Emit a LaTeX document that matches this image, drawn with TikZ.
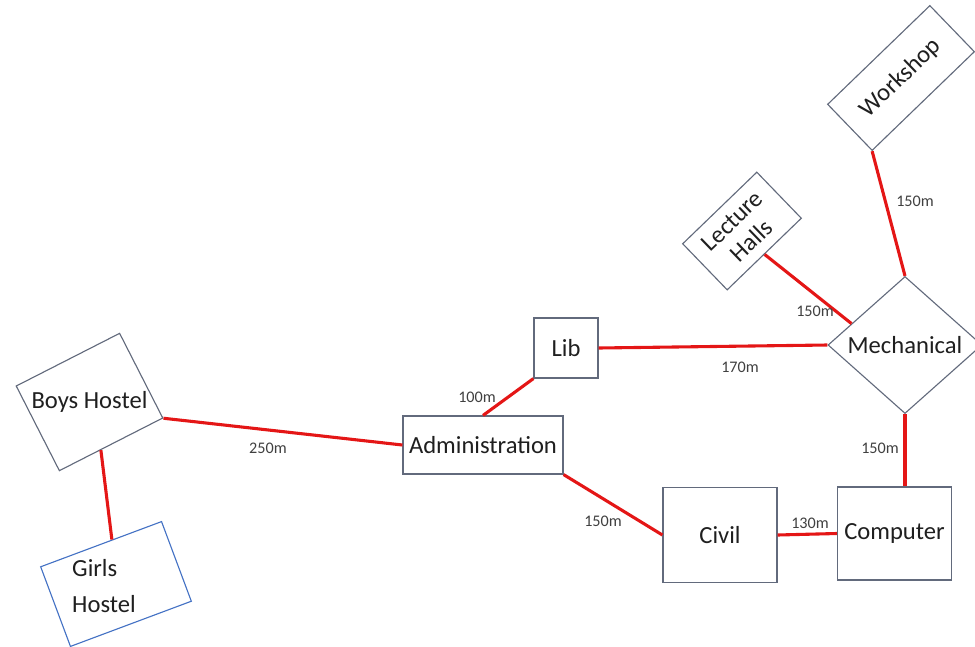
\documentclass[tikz,border=0pt]{standalone}
\usepackage{fontspec}
\setmainfont{Carlito}
\usepackage{xcolor}
\usepackage{tikz}
\usetikzlibrary{shapes,positioning,calc}
\definecolor{wallgray}{RGB}{98,106,124}
\definecolor{cablered}{RGB}{228,22,22}
\definecolor{girlsblue}{RGB}{68,114,196}
\tikzstyle{tag} = [font=\fontsize{17.5}{25}\selectfont, text=black!88]
\tikzstyle{bldg} = [rectangle, draw=wallgray, line width=0.8pt, inner sep=0pt, tag]
\tikzstyle{cable} = [draw=cablered, line width=2.2pt]
\tikzstyle{dist} = [font=\fontsize{11.5}{13}\selectfont, text=black!75, inner sep=0pt]

\begin{document}
\begin{tikzpicture}[x=0.025cm, y=-0.025cm]
    \useasboundingbox (0,0) rectangle (975,646);
    % hostels
    \node[bldg, rotate=27, minimum width=2.9cm, minimum height=2.375cm] (bh) at (89.5,402) {};
    \node[tag] (bhtext) at (bh.center) {Boys Hostel};
    \node[bldg, draw=girlsblue, rotate=20.5, minimum width=3.225cm, minimum height=2.125cm] (gh) at (116,584) {};
    \node[tag, align=left] (ghtext) at (104,586) {Girls\\Hostel};
    % main blocks
    \node[bldg, minimum width=4cm, minimum height=1.45cm] (adm) at (483,445) {Administration};
    \node[bldg, minimum width=1.6cm, minimum height=1.5cm] (lib) at (566,348) {Lib};
    \node[bldg, minimum width=2.85cm, minimum height=2.375cm] (civ) at (720,535) {Civil};
    \node[bldg, minimum width=2.85cm, minimum height=2.325cm] (comp) at (894.5,533.5) {Computer};
    \node[bldg, diamond, minimum width=3.85cm, minimum height=3.425cm] (mech) at (905,345) {Mechanical};
    \node[bldg, rotate=44, minimum width=2.575cm, minimum height=1.6cm, align=center,
          font=\fontsize{17.5}{20}\selectfont] (lh) at (742,231) {Lecture\\Halls};
    \node[bldg, rotate=44, minimum width=3.55cm, minimum height=1.6cm] (ws) at (901,78) {Workshop};
    % cables
    \draw[cable] ($(bh.south west)!0.4!(bh.south east)$) -- ($(gh.north west)!0.59!(gh.north east)$);
    \draw[cable] (bh.south east) -- (adm.west);
    \draw[cable] (adm.north) -- (lib.south west);
    \draw[cable] (lib.east) -- (mech.west);
    \draw[cable] (adm.south east) -- (civ.west);
    \draw[cable] (civ.east) -- (comp.west);
    \draw[cable] (mech.south) -- (mech.south |- comp.north);
    \draw[cable] (lh.south) -- ($(mech.west)!0.31!(mech.north)$);
    \draw[cable] (ws.south west) -- (mech.north);
    % distances
    \node[dist] (d250) at (268,448) {250m};
    \node[dist] (d100) at (477,397) {100m};
    \node[dist] (d170) at (740,367) {170m};
    \node[dist] (d150a) at (603,521) {150m};
    \node[dist] (d130) at (810,523) {130m};
    \node[dist] (d150b) at (880,448) {150m};
    \node[dist] (d150c) at (815,311) {150m};
    \node[dist] (d150d) at (915,201) {150m};
\end{tikzpicture}
\end{document}
